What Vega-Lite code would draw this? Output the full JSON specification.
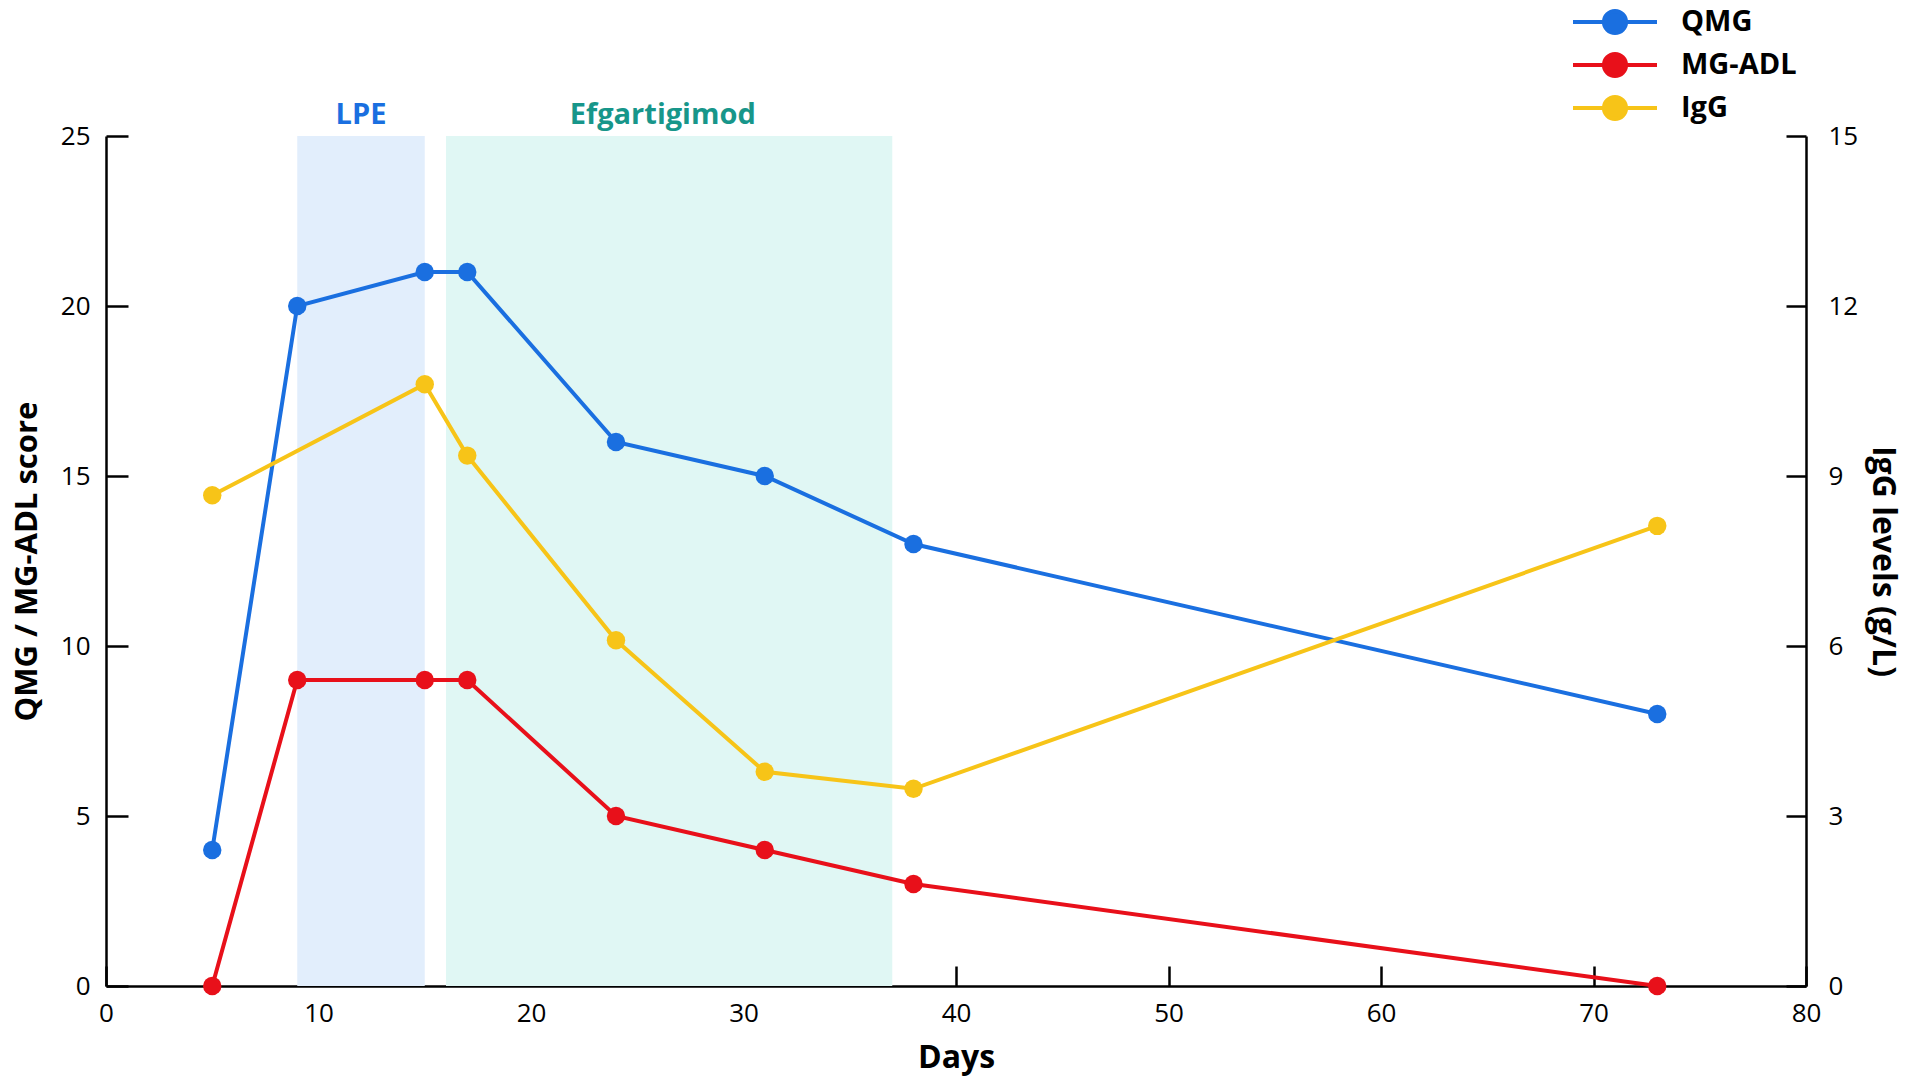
{
  "$schema": "https://vega.github.io/schema/vega-lite/v6.json",
  "width": 1700,
  "height": 850,
  "autosize": {"type": "none"},
  "padding": {"left": 106, "top": 136, "right": 104, "bottom": 100},
  "background": "white",
  "datasets": {
    "bands": [
      {"start": 9, "end": 15, "mid": 12, "label": "LPE"},
      {"start": 16, "end": 37, "mid": 26.2, "label": "Efgartigimod"}
    ],
    "series": [
      {"day": 5, "series": "QMG", "value": 4},
      {"day": 9, "series": "QMG", "value": 20},
      {"day": 15, "series": "QMG", "value": 21},
      {"day": 17, "series": "QMG", "value": 21},
      {"day": 24, "series": "QMG", "value": 16},
      {"day": 31, "series": "QMG", "value": 15},
      {"day": 38, "series": "QMG", "value": 13},
      {"day": 73, "series": "QMG", "value": 8},
      {"day": 5, "series": "MG-ADL", "value": 0},
      {"day": 9, "series": "MG-ADL", "value": 9},
      {"day": 15, "series": "MG-ADL", "value": 9},
      {"day": 17, "series": "MG-ADL", "value": 9},
      {"day": 24, "series": "MG-ADL", "value": 5},
      {"day": 31, "series": "MG-ADL", "value": 4},
      {"day": 38, "series": "MG-ADL", "value": 3},
      {"day": 73, "series": "MG-ADL", "value": 0},
      {"day": 5, "series": "IgG", "value": 8.66},
      {"day": 15, "series": "IgG", "value": 10.62},
      {"day": 17, "series": "IgG", "value": 9.36},
      {"day": 24, "series": "IgG", "value": 6.1},
      {"day": 31, "series": "IgG", "value": 3.78},
      {"day": 38, "series": "IgG", "value": 3.48},
      {"day": 73, "series": "IgG", "value": 8.12}
    ]
  },
  "layer": [
    {
      "layer": [
        {
          "data": {"name": "bands"},
          "transform": [{"filter": "datum.label == 'LPE'"}],
          "mark": {"type": "rect", "color": "#e2eefc"},
          "encoding": {
            "x": {"field": "start", "type": "quantitative"},
            "x2": {"field": "end"},
            "y": {"datum": 0, "type": "quantitative"},
            "y2": {"datum": 25}
          }
        },
        {
          "data": {"name": "bands"},
          "transform": [{"filter": "datum.label == 'Efgartigimod'"}],
          "mark": {"type": "rect", "color": "#e0f7f4"},
          "encoding": {
            "x": {"field": "start", "type": "quantitative"},
            "x2": {"field": "end"},
            "y": {"datum": 0, "type": "quantitative"},
            "y2": {"datum": 25}
          }
        },
        {
          "data": {"name": "bands"},
          "transform": [{"filter": "datum.label == 'LPE'"}],
          "mark": {"type": "text", "color": "#1a6fe0", "font": "Open Sans", "fontWeight": "bold", "fontSize": 29, "align": "center", "baseline": "alphabetic", "dy": -12, "clip": false},
          "encoding": {
            "x": {"field": "mid", "type": "quantitative"},
            "y": {"datum": 25, "type": "quantitative"},
            "text": {"field": "label"}
          }
        },
        {
          "data": {"name": "bands"},
          "transform": [{"filter": "datum.label == 'Efgartigimod'"}],
          "mark": {"type": "text", "color": "#17968a", "font": "Open Sans", "fontWeight": "bold", "fontSize": 29, "align": "center", "baseline": "alphabetic", "dy": -12, "clip": false},
          "encoding": {
            "x": {"field": "mid", "type": "quantitative"},
            "y": {"datum": 25, "type": "quantitative"},
            "text": {"field": "label"}
          }
        },
        {
          "data": {"name": "series"},
          "transform": [{"filter": "datum.series != 'IgG'"}],
          "mark": {"type": "line", "strokeWidth": 4},
          "encoding": {
            "x": {
              "field": "day",
              "type": "quantitative",
              "scale": {"domain": [0, 80], "nice": false},
              "axis": {
                "title": "Days",
                "values": [0, 10, 20, 30, 40, 50, 60, 70, 80],
                "grid": false,
                "labelFlush": false,
                "tickSize": -20,
                "labelPadding": 34,
                "titlePadding": 16
              }
            },
            "y": {
              "field": "value",
              "type": "quantitative",
              "scale": {"domain": [0, 25], "nice": false},
              "axis": {
                "title": "QMG / MG-ADL score",
                "titleFontSize": 31,
                "values": [0, 5, 10, 15, 20, 25],
                "grid": false,
                "tickSize": -22,
                "labelPadding": 38,
                "titlePadding": 17
              }
            },
            "color": {
              "field": "series",
              "type": "nominal",
              "scale": {"domain": ["QMG", "MG-ADL", "IgG"], "range": ["#1a6fe0", "#e8101a", "#f7c418"]}
            }
          }
        },
        {
          "data": {"name": "series"},
          "transform": [{"filter": "datum.series != 'IgG'"}],
          "mark": {"type": "circle", "size": 340, "opacity": 1},
          "encoding": {
            "x": {"field": "day", "type": "quantitative"},
            "y": {"field": "value", "type": "quantitative"},
            "color": {"field": "series", "type": "nominal"}
          }
        }
      ]
    },
    {
      "layer": [
        {
          "data": {"name": "series"},
          "transform": [{"filter": "datum.series == 'IgG'"}],
          "mark": {"type": "line", "strokeWidth": 4},
          "encoding": {
            "x": {"field": "day", "type": "quantitative"},
            "y": {
              "field": "value",
              "type": "quantitative",
              "scale": {"domain": [0, 15], "nice": false},
              "axis": {
                "orient": "right",
                "title": "IgG levels (g/L)",
                "format": "d",
                "values": [0, 3, 6, 9, 12, 15],
                "grid": false,
                "tickSize": -20,
                "labelPadding": 42,
                "titlePadding": 8
              }
            },
            "color": {"field": "series", "type": "nominal"}
          }
        },
        {
          "data": {"name": "series"},
          "transform": [{"filter": "datum.series == 'IgG'"}],
          "mark": {"type": "circle", "size": 340, "opacity": 1},
          "encoding": {
            "x": {"field": "day", "type": "quantitative"},
            "y": {"field": "value", "type": "quantitative"},
            "color": {"field": "series", "type": "nominal"}
          }
        }
      ]
    }
  ],
  "resolve": {"scale": {"y": "independent"}},
  "config": {
    "view": {"stroke": null},
    "axis": {
      "domainColor": "black",
      "domainWidth": 2.5,
      "tickColor": "black",
      "tickWidth": 2.5,
      "labelFont": "Open Sans",
      "labelFontSize": 26,
      "labelColor": "black",
      "titleFont": "Open Sans",
      "titleFontSize": 32,
      "titleFontWeight": "bold",
      "titleColor": "black"
    },
    "legend": {
      "title": null,
      "orient": "none",
      "legendX": 1493,
      "legendY": -130,
      "symbolType": "M-3,0L3,0M0.79,0A0.79,0.79,0,1,1,-0.79,0A0.79,0.79,0,1,1,0.79,0",
      "symbolSize": 784,
      "symbolStrokeWidth": 4,
      "symbolOpacity": 1,
      "labelFont": "Open Sans",
      "labelFontWeight": "bold",
      "labelFontSize": 29,
      "labelColor": "black",
      "labelOffset": 50,
      "rowPadding": 3,
      "padding": 0
    }
  }
}
